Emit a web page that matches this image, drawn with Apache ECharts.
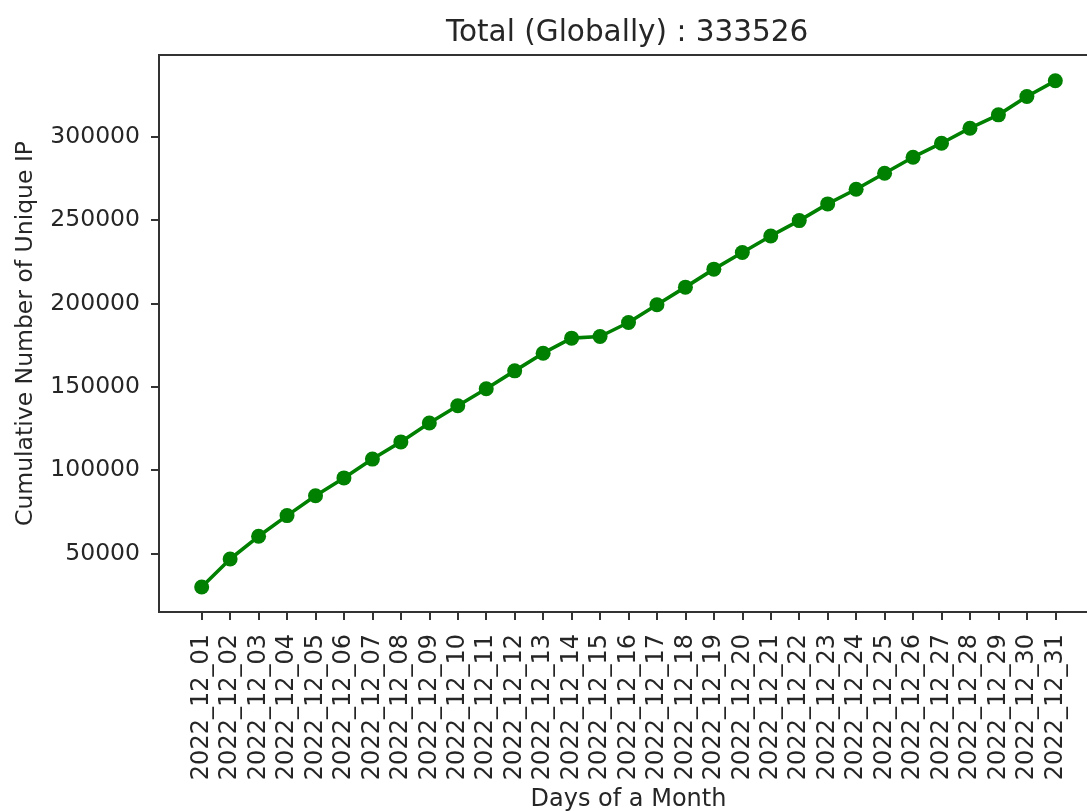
<!DOCTYPE html>
<html>
<head>
<meta charset="utf-8">
<title>Cumulative Unique IP</title>
<script src="https://cdn.jsdelivr.net/npm/echarts@6/dist/echarts.min.js"></script>
<style>
  html, body { margin: 0; padding: 0; background: #ffffff; overflow: hidden; }
  #chart { width: 1087px; height: 811px; }
</style>
</head>
<body>
<div id="chart"></div>
<script>
// Days of December 2022
const days = [
  '2022_12_01','2022_12_02','2022_12_03','2022_12_04','2022_12_05','2022_12_06',
  '2022_12_07','2022_12_08','2022_12_09','2022_12_10','2022_12_11','2022_12_12',
  '2022_12_13','2022_12_14','2022_12_15','2022_12_16','2022_12_17','2022_12_18',
  '2022_12_19','2022_12_20','2022_12_21','2022_12_22','2022_12_23','2022_12_24',
  '2022_12_25','2022_12_26','2022_12_27','2022_12_28','2022_12_29','2022_12_30',
  '2022_12_31'
];

// Running total of unique IPs seen by the end of each day
const cumulativeIPs = [
  30000, 46800, 60400, 72800, 84700, 95400, 106700, 117000, 128300, 138700,
  148900, 159600, 170200, 179200, 180200, 188600, 199200, 209800, 220600, 230600,
  240500, 249700, 259700, 268500, 278100, 287700, 296100, 305100, 313100, 324100,
  333526
];

const yTicks = [50000, 100000, 150000, 200000, 250000, 300000];
const totalGlobal = 333526;

// One empty slot at each end gives the line its side margins
const xCats = [''].concat(days, ['']);
const yData = [null].concat(cumulativeIPs, [null]);

const FONT = '"DejaVu Sans", "Liberation Sans", sans-serif';
const INK = '#262626';

const chart = echarts.init(document.getElementById('chart'), null, { renderer: 'canvas' });

chart.setOption({
  backgroundColor: '#ffffff',
  animation: false,
  title: {
    text: 'Total (Globally) : ' + totalGlobal,
    left: 441,
    top: 13,
    textStyle: { fontFamily: FONT, fontSize: 29.5, fontWeight: 'normal', color: INK }
  },
  grid: {
    left: 159,
    top: 55,
    height: 557,
    width: 939,
    containLabel: false,
    outerBoundsMode: 'none',
    show: true,
    borderColor: '#333333',
    borderWidth: 2,
    backgroundColor: 'transparent'
  },
  xAxis: {
    type: 'category',
    data: xCats,
    boundaryGap: true,
    name: 'Days of a Month',
    nameLocation: 'middle',
    nameGap: 173,
    nameTextStyle: { fontFamily: FONT, fontSize: 24, color: INK },
    axisLine: { show: true, lineStyle: { color: '#333333', width: 2 } },
    axisTick: {
      show: true,
      alignWithLabel: true,
      length: 8,
      interval: function (index, value) { return value !== ''; },
      lineStyle: { color: '#333333', width: 2 }
    },
    axisLabel: {
      interval: 0,
      rotate: 90,
      margin: 22,
      fontFamily: FONT,
      fontSize: 24,
      color: INK
    },
    splitLine: { show: false }
  },
  yAxis: {
    type: 'value',
    min: 15000,
    max: 349000,
    name: 'Cumulative Number of Unique IP',
    nameLocation: 'middle',
    nameGap: 121,
    nameTextStyle: { fontFamily: FONT, fontSize: 23.5, color: INK },
    axisLine: { show: true, lineStyle: { color: '#333333', width: 2 } },
    axisTick: {
      show: true,
      length: 8,
      customValues: yTicks,
      lineStyle: { color: '#333333', width: 2 }
    },
    axisLabel: {
      customValues: yTicks,
      formatter: function (v) { return String(v); },
      margin: 19,
      fontFamily: FONT,
      fontSize: 23.5,
      color: INK
    },
    splitLine: { show: false }
  },
  series: [{
    type: 'line',
    data: yData,
    connectNulls: false,
    symbol: 'circle',
    symbolSize: 15,
    showAllSymbol: true,
    lineStyle: { color: '#008000', width: 3.6 },
    itemStyle: { color: '#008000', borderWidth: 0 },
    emphasis: { disabled: true }
  }]
});
</script>
</body>
</html>
